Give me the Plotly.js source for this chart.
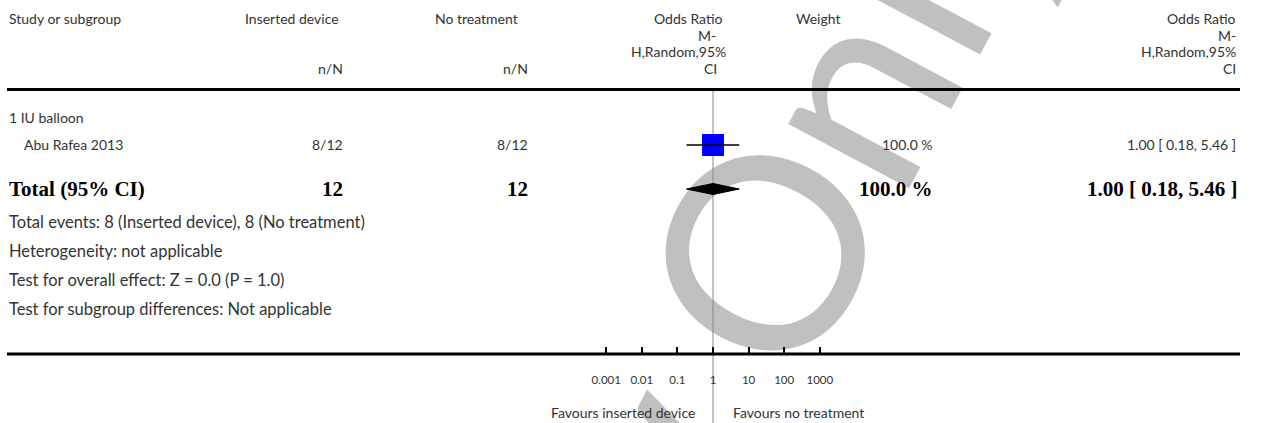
<!DOCTYPE html>
<html>
<head>
<meta charset="utf-8">
<script src="https://cdn.plot.ly/plotly-3.0.1.min.js"></script>
<style>
  html, body { margin: 0; padding: 0; background: #ffffff; }
  #wrap { position: relative; width: 1268px; height: 423px; overflow: hidden; background: #fff; }
  #wm { position: absolute; left: 0; top: 0; white-space: nowrap; font-family: Lato, sans-serif;
        font-size: 270px; color: #c0c0c0; line-height: 1; transform-origin: 50% 50%; z-index: 0; }
  #chart { position: absolute; left: 0; top: 0; width: 1268px; height: 423px; z-index: 1; }
</style>
</head>
<body>
<div id="wrap">
  <div id="wm">Review <span id="wmO">O</span>nly</div>
  <div id="chart"></div>
</div>
<script>
// ---------------- data ----------------
const headers = ["Study or subgroup", "Inserted device", "No treatment", "Weight"];
const orHeader = ["Odds Ratio", "M-", "H,Random,95%", "CI"];
const subgroupLabel = "1 IU balloon";
const studyNames = ["Abu Rafea 2013"];
const studyTreat = ["8/12"];
const studyControl = ["8/12"];
const studyOR = [1.00];
const studyLo = [0.18];
const studyHi = [5.46];
const studyWeight = ["100.0 %"];
const studyCI = ["1.00 [ 0.18, 5.46 ]"];
const totalLabel = "Total (95% CI)";
const totalTreat = "12";
const totalControl = "12";
const totalOR = 1.00;
const totalLo = 0.18;
const totalHi = 5.46;
const totalWeight = "100.0 %";
const totalCI = "1.00 [ 0.18, 5.46 ]";
const footLines = [
  "Total events: 8 (Inserted device), 8 (No treatment)",
  "Heterogeneity: not applicable",
  "Test for overall effect: Z = 0.0 (P = 1.0)",
  "Test for subgroup differences: Not applicable"
];
const tickVals = [0.001, 0.01, 0.1, 1, 10, 100, 1000];
const tickText = ["0.001", "0.01", "0.1", "1", "10", "100", "1000"];
const favLeft = "Favours inserted device";
const favRight = "Favours no treatment";

// ---------------- layout geometry (pixels) ----------------
const W = 1268, H = 423;
const nullPx = 713, decadePx = 35.6;
const axisY = 354, headLineY = 89.5;
const hdrY = [19, 35.3, 51.7, 68];
const rowY = { sub: 118, study: 145, total: 189 };
const footY = [222, 251, 280, 309];
const px = x => x / W;
const py = y => 1 - y / H;

const r0 = -nullPx / decadePx;
const r1 = r0 + W / decadePx;

const reg = { family: "Lato, 'Open Sans', sans-serif", size: 14, color: "#333333" };
const foot = { family: "Lato, 'Open Sans', sans-serif", size: 16.5, color: "#333333" };
const bold = { family: "'Liberation Serif', 'DejaVu Serif', serif", size: 21, color: "#000000", weight: 700 };
const tickF = { family: "Lato, 'Open Sans', sans-serif", size: 11.5, color: "#333333" };
const favF = { family: "Lato, 'Open Sans', sans-serif", size: 14, color: "#333333" };

const ann = [];
function T(text, x, y, anchor, font) {
  ann.push({ text: text, x: px(x), y: py(y), xref: "paper", yref: "paper",
             xanchor: anchor, yanchor: "middle", showarrow: false, font: font });
}
// header
T(headers[0], 7, hdrY[0], "left", reg);
T(headers[1], 243, hdrY[0], "left", reg);
T(headers[2], 433, hdrY[0], "left", reg);
T("n/N", 345, hdrY[3], "right", reg);
T("n/N", 530, hdrY[3], "right", reg);
const orHdrMid = [688, 707, 678, 710];
orHeader.forEach((t, i) => T(t, orHdrMid[i], hdrY[i], "center", reg));
T(headers[3], 818, hdrY[0], "center", reg);
orHeader.forEach((t, i) => T(t, 1238, hdrY[i], "right", reg));
// rows
T(subgroupLabel, 7, rowY.sub, "left", reg);
studyNames.forEach((n, i) => {
  T(n, 22, rowY.study, "left", reg);
  T(studyTreat[i], 345, rowY.study, "right", reg);
  T(studyControl[i], 530, rowY.study, "right", reg);
  T(studyWeight[i], 935, rowY.study, "right", reg);
  T(studyCI[i], 1238, rowY.study, "right", reg);
});
T(totalLabel, 7, rowY.total, "left", bold);
T(totalTreat, 345, rowY.total, "right", bold);
T(totalControl, 530, rowY.total, "right", bold);
T(totalWeight, 935, rowY.total, "right", bold);
T(totalCI, 1240, rowY.total, "right", bold);
footLines.forEach((t, i) => T(t, 7, footY[i], "left", foot));
T(favLeft, 697, 412, "right", favF);
T(favRight, 731, 412, "left", favF);

const traces = [
  { type: "scatter", mode: "markers", x: studyOR, y: studyNames.map(() => rowY.study),
    marker: { symbol: "square", size: 22, color: "#0000ff", line: { width: 0 } }, hoverinfo: "skip" },
  { type: "scatter", mode: "lines", x: [studyLo[0], studyHi[0]], y: [rowY.study, rowY.study],
    line: { color: "#000", width: 1.5 }, hoverinfo: "skip" },
  { type: "scatter", mode: "lines", fill: "toself", fillcolor: "#000",
    x: [totalLo, totalOR, totalHi, totalOR, totalLo],
    y: [rowY.total, rowY.total - 5.5, rowY.total, rowY.total + 5.5, rowY.total],
    line: { color: "#000", width: 1 }, hoverinfo: "skip" }
];

const layout = {
  width: W, height: H,
  margin: { l: 0, r: 0, t: 0, b: 0 },
  paper_bgcolor: "rgba(0,0,0,0)", plot_bgcolor: "rgba(0,0,0,0)",
  showlegend: false,
  xaxis: { type: "log", range: [r0, r1], domain: [0, 1], showgrid: false, zeroline: false,
           showline: false, ticks: "inside", ticklen: 7, tickwidth: 2, tickcolor: "#000",
           tickvals: tickVals, ticktext: tickText, tickfont: tickF, ticklabelstandoff: 17,
           fixedrange: true },
  yaxis: { domain: [1 - axisY / H, 1], range: [axisY, 0], visible: false, fixedrange: true },
  shapes: [
    { type: "line", xref: "paper", yref: "paper", x0: px(7), x1: px(1240), y0: py(headLineY), y1: py(headLineY),
      line: { color: "#000", width: 3 } },
    { type: "line", xref: "paper", yref: "paper", x0: px(7), x1: px(1240), y0: py(axisY), y1: py(axisY),
      line: { color: "#000", width: 3 } },
    { type: "line", xref: "x", yref: "paper", x0: 1, x1: 1, y0: 0, y1: py(91),
      line: { color: "#888", width: 1 }, layer: "below" }
  ],
  annotations: ann
};

Plotly.newPlot("chart", traces, layout, { displayModeBar: false, staticPlot: true });

// watermark placement (behind the chart): put the centre of the "O" at a target point
const wm = document.getElementById("wm");
const oSpan = document.getElementById("wmO");
const w = wm.offsetWidth, h = wm.offsetHeight;
const ang = -62 * Math.PI / 180;
const dx = oSpan.offsetLeft + oSpan.offsetWidth / 2 - w / 2;
const dy = oSpan.offsetTop + oSpan.offsetHeight * 0.55 - h / 2;
const rx = dx * Math.cos(ang) - dy * Math.sin(ang);
const ry = dx * Math.sin(ang) + dy * Math.cos(ang);
const target = { x: 772, y: 258 };
wm.style.left = (target.x - rx - w / 2) + "px";
wm.style.top = (target.y - ry - h / 2) + "px";
wm.style.transform = "rotate(-62deg)";
</script>
</body>
</html>
